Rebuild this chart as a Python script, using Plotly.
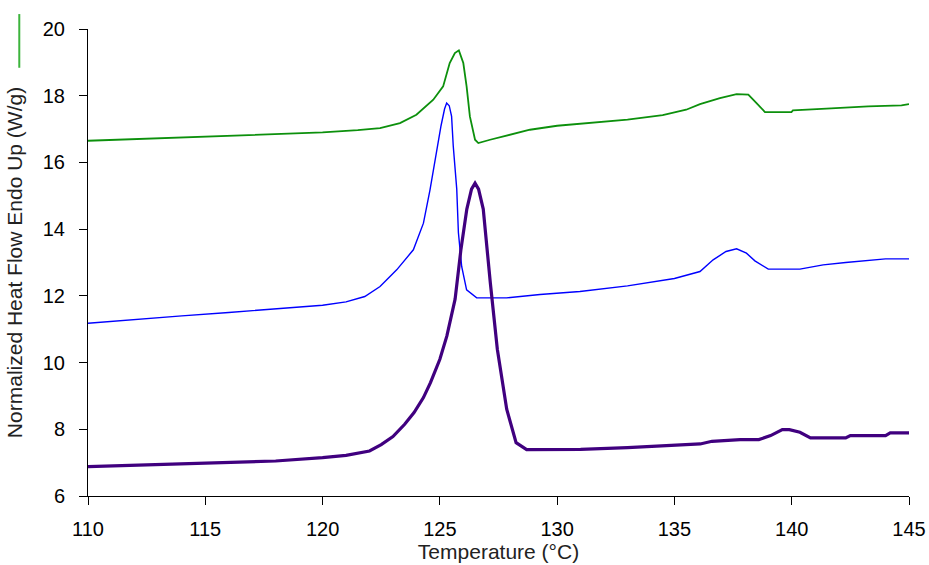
import plotly.graph_objects as go

# DSC thermograms
purple_x = [110, 112, 114, 116, 118, 120, 121, 122, 122.5, 123, 123.5, 123.9, 124.3, 124.6,
            125.0, 125.3, 125.65, 125.9, 126.15, 126.35, 126.5, 126.65, 126.85, 127.15, 127.45,
            127.85, 128.25, 128.7, 129.5, 131, 133, 135, 136.1, 136.6, 137.8, 138.6, 139.1,
            139.6, 139.9, 140.35, 140.8, 142.3, 142.5, 144.0, 144.2, 145]
purple_y = [6.88, 6.92, 6.96, 7.0, 7.05, 7.15, 7.22, 7.35, 7.54, 7.78, 8.15, 8.5, 8.95, 9.4,
            10.1, 10.8, 11.9, 13.4, 14.6, 15.2, 15.38, 15.2, 14.6, 12.4, 10.4,
            8.6, 7.6, 7.39, 7.39, 7.4, 7.45, 7.52, 7.56, 7.64, 7.69, 7.69, 7.81,
            7.99, 7.99, 7.91, 7.74, 7.74, 7.81, 7.81, 7.89, 7.89]

blue_x = [110, 112, 114, 116, 118, 120, 121, 121.8, 122.45, 123.16, 123.87, 124.3, 124.58,
          124.86, 125.05, 125.2, 125.29, 125.4, 125.5, 125.57, 125.65, 125.72, 125.79, 125.93,
          126.14, 126.57, 127.85, 129.27, 130.97, 133, 135, 136.09, 136.65, 137.2, 137.65,
          138.07, 138.43, 138.8, 139.0, 140.35, 141.34, 142.3, 143.2, 144.0, 145]
blue_y = [11.18, 11.3, 11.4, 11.5, 11.6, 11.72, 11.82, 11.98, 12.28, 12.78, 13.38, 14.18, 15.18,
          16.38, 17.1, 17.6, 17.78, 17.7, 17.38, 16.5, 15.9, 15.2, 13.9, 12.88,
          12.18, 11.94, 11.94, 12.04, 12.13, 12.3, 12.52, 12.73, 13.08, 13.33, 13.41,
          13.28, 13.05, 12.88, 12.8, 12.8, 12.93, 13.0, 13.05, 13.11, 13.11]

green_x = [110, 112, 115, 118, 120, 121.5, 122.45, 123.3, 124.0, 124.72, 125.14, 125.42, 125.64,
           125.81, 126.0, 126.14, 126.28, 126.5, 126.64, 127.14, 128.0, 128.84, 130, 131.5, 133,
           134.5, 135.5, 136.09, 136.94, 137.65, 138.15, 138.5, 138.86, 139.99, 140.05, 141.48,
           143.26, 144.68, 145]
green_y = [16.65, 16.7, 16.78, 16.85, 16.9, 16.97, 17.03, 17.18, 17.43, 17.88, 18.28, 18.98, 19.28,
           19.36, 18.98, 18.28, 17.38, 16.68, 16.58, 16.68, 16.83, 16.98, 17.1, 17.18, 17.28,
           17.42, 17.58, 17.75, 17.93, 18.05, 18.03, 17.78, 17.51, 17.51, 17.56, 17.61,
           17.68, 17.71, 17.75]

fig = go.Figure()
fig.add_trace(go.Scatter(x=green_x, y=green_y, mode="lines",
                         line=dict(color="#0c900c", width=1.8)))
fig.add_trace(go.Scatter(x=blue_x, y=blue_y, mode="lines",
                         line=dict(color="#0000ff", width=1.4)))
fig.add_trace(go.Scatter(x=purple_x, y=purple_y, mode="lines",
                         line=dict(color="#40007f", width=3.2)))

# stray legend stroke at top left
fig.add_shape(type="line", xref="paper", yref="paper", x0=-0.0837, x1=-0.0837,
              y0=0.917, y1=1.032, line=dict(color="#3cb43c", width=2))

axis_font = dict(family="Arial, Liberation Sans, sans-serif", size=20, color="black")
fig.update_layout(
    width=929, height=565,
    margin=dict(l=88, r=20, t=29, b=69, autoexpand=False),
    paper_bgcolor="white", plot_bgcolor="white",
    showlegend=False,
    font=axis_font,
)
fig.update_xaxes(range=[110, 145], dtick=5, tick0=110, showgrid=False, zeroline=False,
                 showline=True, linecolor="black", linewidth=1, automargin=False,
                 ticks="outside", ticklen=8, tickcolor="black", ticklabelstandoff=7,
                 title=dict(text="Temperature (°C)", standoff=0,
                            font=dict(color="#222", size=21)))
fig.update_yaxes(range=[6, 20], dtick=2, tick0=6, showgrid=False, zeroline=False,
                 showline=True, linecolor="black", linewidth=1, automargin=False,
                 ticks="outside", ticklen=8, tickcolor="black", ticklabelstandoff=10,
                 title=dict(text="Normalized Heat Flow Endo Up (W/g)", standoff=14,
                            font=dict(color="#222", size=21)))

# drop the default 8px body margin so the figure fills the window exactly
fig.write_html("out.html", config={"displayModeBar": False},
               post_script="document.body.style.margin='0';")
